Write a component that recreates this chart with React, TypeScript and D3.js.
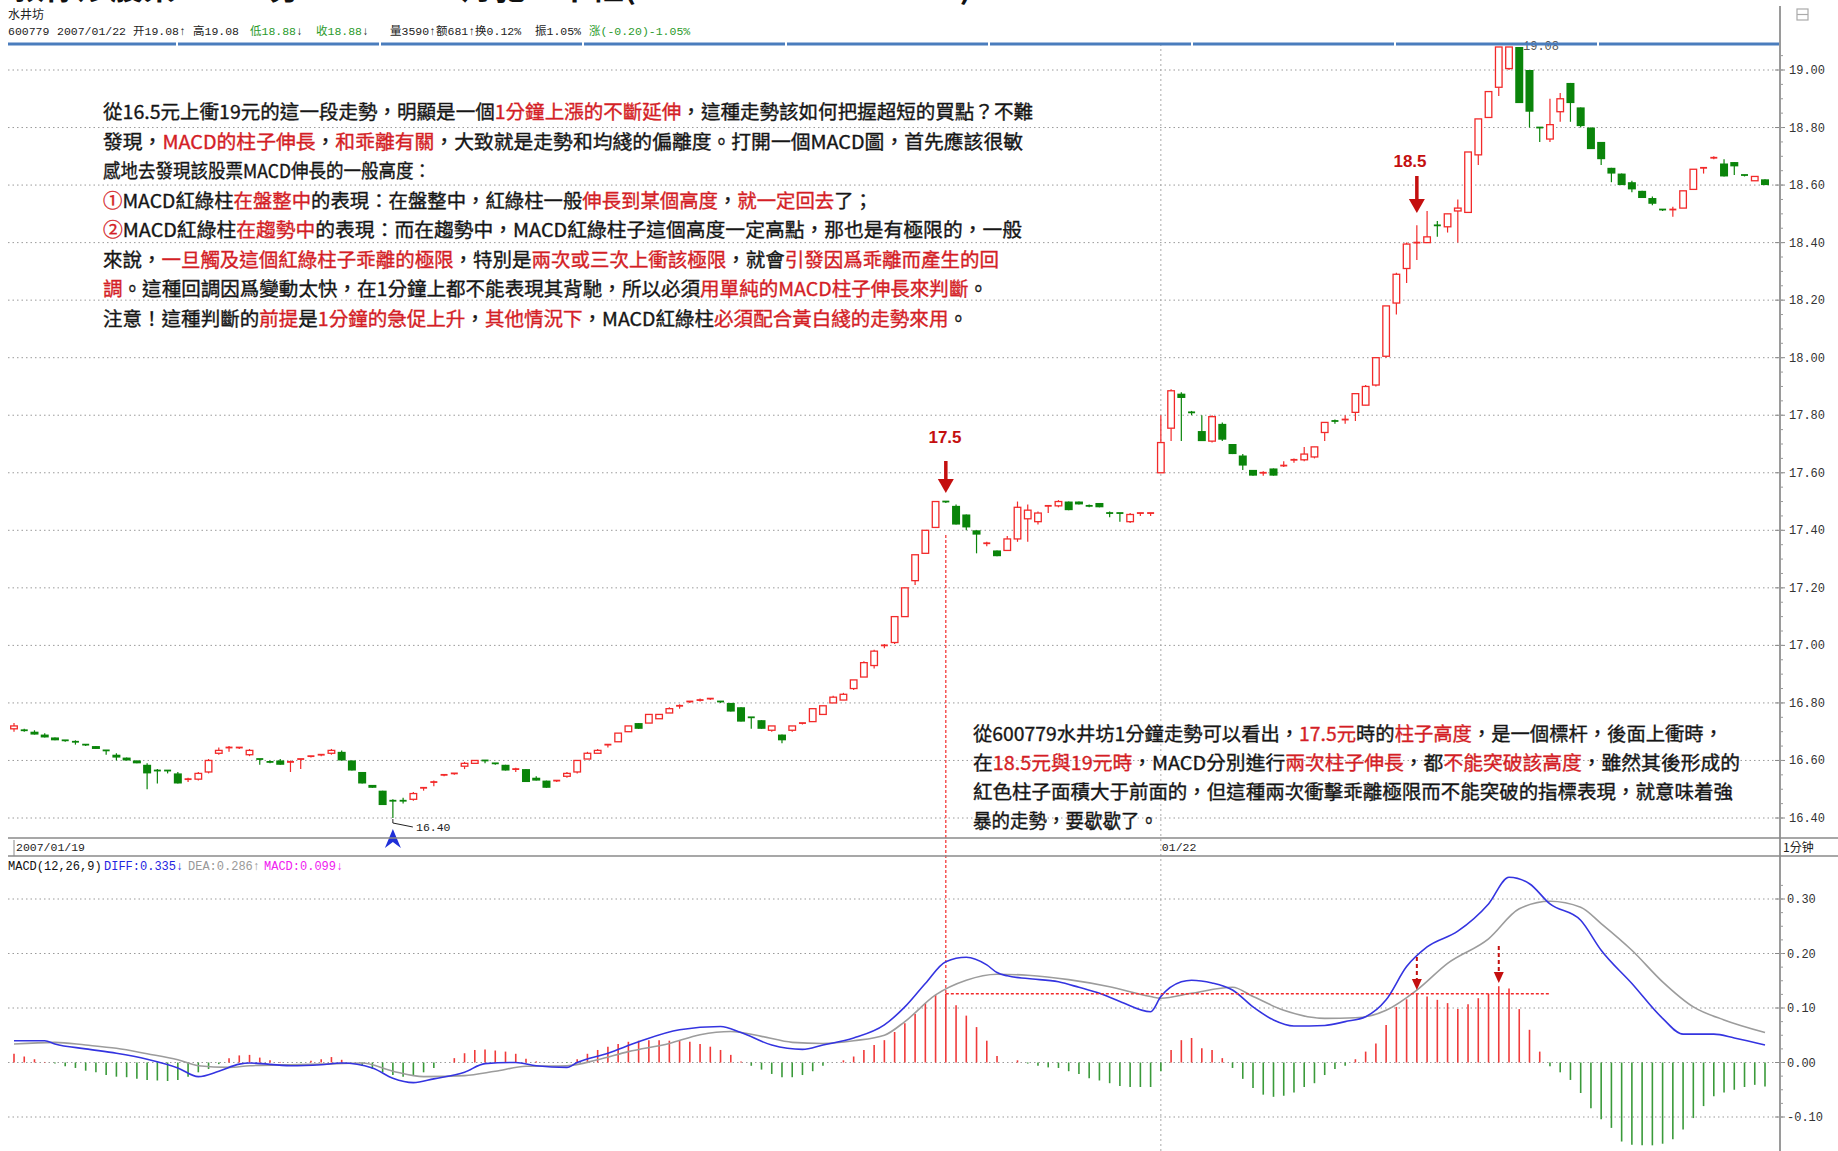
import * as d3 from 'd3';

// 1-minute bars, tail of 2007/01/19
const day1Open = [
  16.71, 16.705, 16.70, 16.69, 16.68, 16.67, 16.665, 16.655, 16.65, 16.635,
  16.62, 16.61, 16.60, 16.585, 16.565, 16.565, 16.555, 16.53, 16.535, 16.56,
  16.625, 16.64, 16.64, 16.62, 16.605, 16.595, 16.60, 16.59, 16.60, 16.61,
  16.615, 16.625, 16.63, 16.60, 16.56, 16.515, 16.495, 16.46, 16.46, 16.465,
  16.50, 16.52, 16.545, 16.55, 16.58, 16.59, 16.60, 16.59, 16.585, 16.565,
  16.57, 16.54, 16.53, 16.525, 16.545, 16.56, 16.605, 16.625, 16.65, 16.665,
  16.70, 16.73, 16.73, 16.745, 16.765, 16.785, 16.80, 16.805, 16.81, 16.805,
  16.80, 16.785, 16.75, 16.74, 16.705, 16.69, 16.705, 16.725, 16.735, 16.76,
  16.80, 16.81, 16.85, 16.89, 16.93, 16.995, 17.01, 17.10, 17.225, 17.32,
  17.41, 17.50, 17.485, 17.455, 17.40, 17.35, 17.33, 17.33, 17.37, 17.44,
  17.43, 17.48, 17.485, 17.50, 17.50, 17.485, 17.495, 17.46, 17.46, 17.43,
  17.455, 17.455,
];
const day1Close = [
  16.72, 16.70, 16.69, 16.68, 16.67, 16.665, 16.66, 16.65, 16.64, 16.63,
  16.61, 16.60, 16.59, 16.555, 16.56, 16.56, 16.52, 16.535, 16.555, 16.60,
  16.635, 16.645, 16.645, 16.635, 16.60, 16.59, 16.585, 16.595, 16.605, 16.615,
  16.62, 16.635, 16.60, 16.565, 16.52, 16.505, 16.445, 16.455, 16.455, 16.485,
  16.505, 16.525, 16.55, 16.555, 16.59, 16.60, 16.595, 16.585, 16.565, 16.57,
  16.525, 16.53, 16.505, 16.53, 16.555, 16.60, 16.625, 16.635, 16.655, 16.695,
  16.72, 16.71, 16.76, 16.76, 16.78, 16.79, 16.805, 16.81, 16.815, 16.80,
  16.77, 16.735, 16.745, 16.71, 16.72, 16.67, 16.72, 16.73, 16.78, 16.79,
  16.82, 16.83, 16.88, 16.94, 16.98, 17.00, 17.10, 17.20, 17.315, 17.40,
  17.50, 17.495, 17.42, 17.41, 17.385, 17.355, 17.31, 17.37, 17.48, 17.47,
  17.46, 17.485, 17.50, 17.47, 17.49, 17.48, 17.48, 17.455, 17.455, 17.455,
  17.46, 17.46,
];
const day1High = [
  16.73, 16.71, 16.705, 16.695, 16.68, 16.67, 16.67, 16.655, 16.65, 16.635,
  16.625, 16.61, 16.60, 16.59, 16.57, 16.565, 16.56, 16.54, 16.56, 16.605,
  16.645, 16.65, 16.645, 16.64, 16.605, 16.60, 16.605, 16.60, 16.605, 16.615,
  16.62, 16.64, 16.635, 16.60, 16.56, 16.515, 16.495, 16.465, 16.47, 16.49,
  16.505, 16.53, 16.55, 16.555, 16.595, 16.60, 16.60, 16.59, 16.585, 16.575,
  16.57, 16.545, 16.53, 16.53, 16.56, 16.60, 16.63, 16.64, 16.655, 16.695,
  16.72, 16.73, 16.76, 16.76, 16.785, 16.795, 16.805, 16.815, 16.815, 16.805,
  16.80, 16.785, 16.75, 16.74, 16.72, 16.69, 16.72, 16.73, 16.78, 16.79,
  16.825, 16.835, 16.88, 16.945, 16.985, 17.005, 17.10, 17.20, 17.315, 17.40,
  17.50, 17.50, 17.49, 17.455, 17.40, 17.36, 17.33, 17.38, 17.50, 17.49,
  17.465, 17.485, 17.505, 17.50, 17.50, 17.49, 17.495, 17.465, 17.46, 17.46,
  17.46, 17.46,
];
const day1Low = [
  16.70, 16.70, 16.69, 16.68, 16.67, 16.665, 16.655, 16.65, 16.64, 16.62,
  16.60, 16.60, 16.59, 16.50, 16.52, 16.555, 16.52, 16.525, 16.53, 16.555,
  16.62, 16.63, 16.64, 16.615, 16.585, 16.59, 16.585, 16.56, 16.57, 16.61,
  16.615, 16.62, 16.60, 16.565, 16.52, 16.505, 16.445, 16.40, 16.45, 16.46,
  16.495, 16.51, 16.545, 16.55, 16.57, 16.59, 16.59, 16.585, 16.565, 16.56,
  16.525, 16.53, 16.505, 16.525, 16.54, 16.555, 16.605, 16.625, 16.645, 16.665,
  16.70, 16.71, 16.73, 16.745, 16.765, 16.78, 16.80, 16.805, 16.81, 16.80,
  16.77, 16.735, 16.71, 16.71, 16.70, 16.66, 16.70, 16.725, 16.735, 16.76,
  16.80, 16.81, 16.845, 16.89, 16.92, 16.99, 17.005, 17.10, 17.21, 17.32,
  17.41, 17.495, 17.42, 17.40, 17.32, 17.345, 17.31, 17.33, 17.36, 17.36,
  17.42, 17.46, 17.48, 17.47, 17.49, 17.48, 17.48, 17.445, 17.43, 17.425,
  17.45, 17.45,
];

// 1-minute bars, 2007/01/22
const day2Open = [
  17.60, 17.755, 17.875, 17.81, 17.745, 17.71, 17.77, 17.70, 17.66, 17.61,
  17.595, 17.615, 17.62, 17.64, 17.645, 17.655, 17.74, 17.78, 17.78, 17.81,
  17.835, 17.905, 18.005, 18.19, 18.31, 18.395, 18.40, 18.46, 18.455, 18.51,
  18.505, 18.705, 18.835, 18.94, 19.005, 19.08, 19.00, 18.80, 18.76, 18.855,
  18.955, 18.87, 18.80, 18.75, 18.66, 18.64, 18.61, 18.58, 18.555, 18.515,
  18.51, 18.52, 18.585, 18.655, 18.69, 18.675, 18.68, 18.635, 18.615, 18.62,
];
const day2Close = [
  17.705, 17.885, 17.86, 17.805, 17.71, 17.795, 17.715, 17.665, 17.625, 17.59,
  17.60, 17.59, 17.625, 17.645, 17.665, 17.69, 17.775, 17.775, 17.785, 17.875,
  17.90, 18.00, 18.18, 18.29, 18.395, 18.40, 18.42, 18.455, 18.50, 18.52,
  18.715, 18.83, 18.925, 19.08, 19.08, 18.885, 18.855, 18.795, 18.81, 18.90,
  18.885, 18.805, 18.725, 18.69, 18.64, 18.60, 18.585, 18.555, 18.535, 18.51,
  18.515, 18.58, 18.655, 18.66, 18.695, 18.63, 18.665, 18.63, 18.63, 18.60,
];
const day2High = [
  17.80, 17.89, 17.88, 17.815, 17.80, 17.80, 17.775, 17.70, 17.665, 17.61,
  17.605, 17.615, 17.64, 17.65, 17.69, 17.69, 17.775, 17.785, 17.80, 17.875,
  17.905, 18.00, 18.18, 18.295, 18.40, 18.46, 18.51, 18.475, 18.50, 18.55,
  18.715, 18.83, 18.925, 19.08, 19.08, 19.08, 19.00, 18.80, 18.90, 18.92,
  18.955, 18.87, 18.80, 18.75, 18.66, 18.64, 18.615, 18.58, 18.56, 18.515,
  18.525, 18.58, 18.655, 18.66, 18.70, 18.69, 18.68, 18.635, 18.63, 18.62,
];
const day2Low = [
  17.60, 17.71, 17.71, 17.80, 17.71, 17.705, 17.71, 17.665, 17.61, 17.59,
  17.59, 17.59, 17.62, 17.635, 17.64, 17.65, 17.71, 17.77, 17.77, 17.78,
  17.835, 17.90, 18.00, 18.15, 18.26, 18.34, 18.40, 18.42, 18.435, 18.40,
  18.505, 18.67, 18.835, 18.91, 19.00, 18.885, 18.80, 18.75, 18.75, 18.82,
  18.82, 18.80, 18.725, 18.67, 18.61, 18.60, 18.575, 18.555, 18.53, 18.51,
  18.49, 18.52, 18.585, 18.64, 18.69, 18.63, 18.635, 18.63, 18.615, 18.60,
];

// MACD(12,26,9) histogram, one value per bar
const macdHist = [
  0.016, 0.011, 0.006, 0.001, -0.002, -0.007, -0.010, -0.015, -0.018, -0.023,
  -0.026, -0.027, -0.030, -0.032, -0.033, -0.034, -0.032, -0.026, -0.018, -0.012,
  -0.003, 0.008, 0.013, 0.014, 0.009, 0.004, 0.001, 0.000, -0.001, 0.003,
  0.006, 0.010, 0.005, 0.000, -0.006, -0.012, -0.018, -0.023, -0.026, -0.024,
  -0.018, -0.010, 0.000, 0.008, 0.017, 0.023, 0.024, 0.022, 0.020, 0.016,
  0.007, 0.002, 0.000, 0.000, -0.001, 0.006, 0.016, 0.023, 0.029, 0.034,
  0.038, 0.040, 0.041, 0.041, 0.040, 0.040, 0.038, 0.034, 0.029, 0.023,
  0.014, 0.002, -0.006, -0.013, -0.021, -0.027, -0.027, -0.023, -0.016, -0.006,
  0.000, 0.004, 0.011, 0.023, 0.032, 0.041, 0.056, 0.072, 0.089, 0.109,
  0.124, 0.126, 0.105, 0.086, 0.065, 0.040, 0.012, 0.000, 0.004, -0.002,
  -0.006, -0.009, -0.010, -0.016, -0.021, -0.029, -0.033, -0.038, -0.043, -0.045,
  -0.045, -0.045, -0.016, 0.023, 0.041, 0.045, 0.026, 0.023, 0.008, -0.010,
  -0.030, -0.047, -0.059, -0.063, -0.061, -0.055, -0.045, -0.038, -0.023, -0.012,
  -0.006, 0.006, 0.020, 0.035, 0.069, 0.102, 0.116, 0.126, 0.121, 0.115,
  0.109, 0.098, 0.107, 0.118, 0.126, 0.140, 0.136, 0.098, 0.060, 0.020,
  -0.007, -0.018, -0.032, -0.056, -0.084, -0.104, -0.120, -0.145, -0.151, -0.152,
  -0.152, -0.149, -0.141, -0.123, -0.102, -0.080, -0.062, -0.055, -0.050, -0.045,
  -0.041, -0.044,
];

// DIFF / DEA at these bar indices
const diffAt = [0, 3, 4, 7, 10, 13, 16, 18, 20, 22, 23, 27, 30, 32, 35, 37, 39, 41, 44, 46, 49, 51, 54, 55, 58, 61, 65, 69, 71, 74, 77, 79, 82, 85, 87, 89, 91, 93, 95, 96, 97, 99, 102, 104, 106, 108, 111, 112, 114, 115, 117, 119, 121, 123, 125, 128, 130, 132, 134, 136, 138, 141, 144, 146, 148, 150, 153, 155, 158, 161, 163, 166, 168, 171];
const diffVal = [0.040, 0.040, 0.034, 0.025, 0.017, 0.006, -0.010, -0.026, -0.016, -0.003, -0.001, -0.006, -0.004, -0.001, -0.010, -0.029, -0.037, -0.030, -0.018, -0.002, 0.000, -0.006, -0.009, 0.000, 0.017, 0.038, 0.060, 0.066, 0.055, 0.032, 0.024, 0.032, 0.045, 0.069, 0.102, 0.145, 0.185, 0.193, 0.179, 0.165, 0.159, 0.154, 0.148, 0.138, 0.127, 0.112, 0.093, 0.121, 0.148, 0.151, 0.146, 0.133, 0.102, 0.078, 0.067, 0.068, 0.075, 0.084, 0.115, 0.176, 0.212, 0.241, 0.291, 0.340, 0.328, 0.291, 0.261, 0.206, 0.145, 0.081, 0.052, 0.052, 0.045, 0.032];
const deaAt = [0, 4, 7, 10, 13, 16, 18, 21, 23, 27, 30, 34, 37, 40, 44, 47, 50, 54, 57, 60, 64, 67, 70, 73, 76, 79, 82, 85, 87, 90, 93, 96, 99, 103, 107, 111, 112, 115, 119, 121, 124, 128, 131, 134, 137, 140, 144, 147, 150, 153, 155, 158, 161, 164, 167, 171];
const deaVal = [0.034, 0.037, 0.032, 0.026, 0.016, 0.005, -0.006, -0.009, -0.006, -0.004, -0.003, -0.001, -0.016, -0.026, -0.024, -0.016, -0.007, -0.006, 0.005, 0.020, 0.035, 0.051, 0.057, 0.048, 0.037, 0.035, 0.040, 0.050, 0.075, 0.124, 0.151, 0.162, 0.160, 0.152, 0.139, 0.121, 0.118, 0.127, 0.138, 0.121, 0.096, 0.081, 0.082, 0.096, 0.133, 0.182, 0.227, 0.282, 0.296, 0.285, 0.255, 0.206, 0.148, 0.102, 0.078, 0.055];

const priceTicks = [19.0, 18.8, 18.6, 18.4, 18.2, 18.0, 17.8, 17.6, 17.4, 17.2, 17.0, 16.8, 16.6, 16.4];
const macdTicks = [0.3, 0.2, 0.1, 0.0, -0.1];

// annotation text: [text, red?]
const noteA: [string, boolean][][] = [
  [['從16.5元上衝19元的這一段走勢，明顯是一個', false], ['1分鐘上漲的不斷延伸', true], ['，這種走勢該如何把握超短的買點？不難', false]],
  [['發現，', false], ['MACD的柱子伸長', true], ['，', false], ['和乖離有關', true], ['，大致就是走勢和均綫的偏離度。打開一個MACD圖，首先應該很敏', false]],
  [['感地去發現該股票MACD伸長的一般高度：', false]],
  [['①', true], ['MACD紅綠柱', false], ['在盤整中', true], ['的表現：在盤整中，紅綠柱一般', false], ['伸長到某個高度', true], ['，', false], ['就一定回去', true], ['了；', false]],
  [['②', true], ['MACD紅綠柱', false], ['在趨勢中', true], ['的表現：而在趨勢中，MACD紅綠柱子這個高度一定高點，那也是有極限的，一般', false]],
  [['來說，', false], ['一旦觸及這個紅綠柱子乖離的極限', true], ['，特別是', false], ['兩次或三次上衝該極限', true], ['，就會', false], ['引發因爲乖離而產生的回', true]],
  [['調', true], ['。這種回調因爲變動太快，在1分鐘上都不能表現其背馳，所以必須', false], ['用單純的MACD柱子伸長來判斷', true], ['。', false]],
  [['注意！這種判斷的', false], ['前提', true], ['是', false], ['1分鐘的急促上升', true], ['，', false], ['其他情況下', true], ['，MACD紅綠柱', false], ['必須配合黃白綫的走勢來用', true], ['。', false]],
];
const noteB: [string, boolean][][] = [
  [['從600779水井坊1分鐘走勢可以看出，', false], ['17.5元', true], ['時的', false], ['柱子高度', true], ['，是一個標杆，後面上衝時，', false]],
  [['在', false], ['18.5元與19元時', true], ['，MACD分別進行', false], ['兩次柱子伸長', true], ['，都', false], ['不能突破該高度', true], ['，雖然其後形成的', false]],
  [['紅色柱子面積大于前面的，但這種兩次衝擊乖離極限而不能突破的指標表現，就意味着強', false]],
  [['暴的走勢，要歇歇了。', false]],
];
const noteAWidths = [930, 920, 328, 770, 919, 896, 885, 865];
const noteBWidths = [750, 767, 760, 185];

const RED = '#f22a2a';
const GREEN = '#0a840a';
const TXT_RED = '#d41e26';
const TXT = '#161616';
const MARK = '#c40f0f';
const CJK = "'Noto Sans CJK TC', 'Noto Sans CJK SC', sans-serif";
const MONO_SC = "'Liberation Mono', 'Noto Sans CJK SC', monospace";
const MONO = "'Liberation Mono', 'DejaVu Sans Mono', monospace";

const DownArrow = ({ x, top, tip, dashed }: { x: number; top: number; tip: number; dashed?: boolean }) => (
  <g>
    <line x1={x} x2={x} y1={top} y2={tip - 10} stroke={MARK} strokeWidth={dashed ? 2 : 3.5} strokeDasharray={dashed ? '4,3' : undefined} />
    <polygon points={`${x - (dashed ? 5 : 8)},${tip - (dashed ? 11 : 14)} ${x + (dashed ? 5 : 8)},${tip - (dashed ? 11 : 14)} ${x},${tip}`} fill={MARK} />
  </g>
);

const Note = ({ lines, widths, x, y, step }: { lines: [string, boolean][][]; widths: number[]; x: number; y: number; step: number }) => (
  <g>
    {lines.map((line, k) => (
      <text key={k} x={x} y={y + k * step} fontSize={19} textLength={widths[k]} lengthAdjust="spacingAndGlyphs">
        {line.map(([s, r], j) => {
          const c = r ? TXT_RED : TXT;
          return <tspan key={j} fill={c} stroke={c} strokeWidth={0.35}>{s}</tspan>;
        })}
      </text>
    ))}
  </g>
);

const App = () => {
  const open = [...day1Open, ...day2Open];
  const close = [...day1Close, ...day2Close];
  const high = [...day1High, ...day2High];
  const low = [...day1Low, ...day2Low];
  const n = open.length;

  const x = d3.scaleLinear().domain([0, n - 1]).range([14, 1765]);
  const yP = d3.scaleLinear().domain([16.4, 19.0]).range([818, 70]);
  const yM = d3.scaleLinear().domain([-0.1, 0.3]).range([1117, 899]);

  const axisX = 1780;
  const dayBreak = x(day1Open.length);
  const bar175 = 91, bar185 = 137, bar19 = 145, barLow = 37;

  const diffLine = d3.line<number>().x((_, k) => x(diffAt[k])).y(v => yM(v)).curve(d3.curveMonotoneX)(diffVal) ?? '';
  const deaLine = d3.line<number>().x((_, k) => x(deaAt[k])).y(v => yM(v)).curve(d3.curveMonotoneX)(deaVal) ?? '';

  const minorP = d3.range(16.4, 19.05, 0.05);
  const minorM = d3.range(-0.1, 0.33, 0.025);
  const blueGaps = [177, 380, 583, 786, 989, 1192, 1395, 1598];
  const blueEdges = [8, ...blueGaps, axisX];

  return (
    <svg width={1838} height={1151} style={{ position: 'absolute', left: 0, top: 0, background: '#fff' }} fontFamily={CJK}>
      {/* page title, cut by the top edge */}
      <text x={12} y={-1.5} fontSize={30} fontWeight="bold" fill="#111" textLength={960} lengthAdjust="spacingAndGlyphs">教你炒股票 15 - 1分，MACD、背驰、中枢(2007-01-23 13:15:13)</text>

      {/* header */}
      <text x={8} y={19} fontSize={12} fill="#222">水井坊</text>
      <text y={35} fontSize={11.5} fontFamily={MONO_SC} fill="#222">
        <tspan x={8}>600779</tspan>
        <tspan x={57}>2007/01/22</tspan>
        <tspan x={133}>开19.08↑</tspan>
        <tspan x={193}>高19.08</tspan>
        <tspan x={250} fill="#2a9a2a">低18.88</tspan><tspan>↓</tspan>
        <tspan x={316} fill="#2a9a2a">收18.88</tspan><tspan>↓</tspan>
        <tspan x={390}>量3590↑额681↑换0.12%</tspan>
        <tspan x={535}>振1.05%</tspan>
        <tspan x={589} fill="#2a9a2a">涨(-0.20)-1.05%</tspan>
      </text>

      {/* price grid */}
      {priceTicks.map(t => (
        <g key={'pg' + t}>
          <line x1={8} x2={axisX} y1={yP(t)} y2={yP(t)} stroke="#9a9a9a" strokeDasharray="1.5,3" />
          <line x1={axisX - 5} x2={axisX + 5} y1={yP(t)} y2={yP(t)} stroke="#888" />
          <text x={1789} y={yP(t) + 4} fontSize={12} fontFamily={MONO} fill="#333">{t.toFixed(2)}</text>
        </g>
      ))}
      {minorP.map((t, k) => (
        <line key={'pm' + k} x1={axisX} x2={axisX + 3} y1={yP(t)} y2={yP(t)} stroke="#999" />
      ))}

      {/* macd grid */}
      {macdTicks.map(t => (
        <g key={'mg' + t}>
          <line x1={8} x2={axisX} y1={yM(t)} y2={yM(t)} stroke="#9a9a9a" strokeDasharray="1.5,3" />
          <line x1={axisX - 5} x2={axisX + 5} y1={yM(t)} y2={yM(t)} stroke="#888" />
          <text x={1787} y={yM(t) + 4} fontSize={12} fontFamily={MONO} fill="#333">{t.toFixed(2)}</text>
        </g>
      ))}
      {minorM.map((t, k) => (
        <line key={'mm' + k} x1={axisX} x2={axisX + 3} y1={yM(t)} y2={yM(t)} stroke="#999" />
      ))}

      {/* day separator */}
      <line x1={dayBreak} x2={dayBreak} y1={44} y2={1151} stroke="#aaa" strokeDasharray="2,3" />

      {/* annotation paragraphs */}
      <Note lines={noteA} widths={noteAWidths} x={103} y={119} step={29.5} />
      <Note lines={noteB} widths={noteBWidths} x={973} y={741} step={29} />

      {/* vertical marker from the 17.5 bar down to its MACD bar */}
      <line x1={x(bar175)} x2={x(bar175)} y1={535} y2={yM(macdHist[bar175])} stroke={RED} strokeDasharray="3,2" strokeWidth={1.2} />

      {/* candles */}
      {open.map((o, i) => {
        const c = close[i];
        const up = c >= o;
        const col = up ? RED : GREEN;
        const cx = x(i);
        const top = yP(Math.max(o, c));
        const bot = yP(Math.min(o, c));
        const flat = bot - top < 1.5;
        return (
          <g key={'c' + i}>
            <line x1={cx} x2={cx} y1={yP(high[i])} y2={yP(low[i])} stroke={col} strokeWidth={1.2} />
            {flat ? (
              <line x1={cx - 3.5} x2={cx + 3.5} y1={top} y2={top} stroke={col} strokeWidth={1.8} />
            ) : up ? (
              <rect x={cx - 3.3} y={top} width={6.6} height={bot - top} fill="#fff" stroke={col} strokeWidth={1.3} />
            ) : (
              <rect x={cx - 4} y={top} width={8} height={bot - top} fill={col} />
            )}
          </g>
        );
      })}

      {/* price labels & arrows */}
      <polyline points={`${x(barLow)},${yP(low[barLow]) + 1} ${x(barLow)},823 ${x(barLow) + 20},827`} fill="none" stroke="#222" strokeWidth={1} />
      <text x={416} y={831} fontSize={11.5} fontFamily={MONO} fill="#222">{low[barLow].toFixed(2)}</text>
      <polygon points={`${x(barLow)},829 ${x(barLow) + 8},848 ${x(barLow)},842 ${x(barLow) - 8},848`} fill="#1f2fd8" />
      <text x={1523} y={50} fontSize={12} fontFamily={MONO} fill="#555">{high[bar19 + 1].toFixed(2)}</text>

      <text x={945} y={443} fontSize={17} fontWeight="bold" fontFamily="'Liberation Sans', Arial, sans-serif" fill={MARK} textAnchor="middle">17.5</text>
      <DownArrow x={x(bar175)} top={461} tip={493} />
      <text x={1410} y={167} fontSize={17} fontWeight="bold" fontFamily="'Liberation Sans', Arial, sans-serif" fill={MARK} textAnchor="middle">18.5</text>
      <DownArrow x={x(bar185)} top={176} tip={213} />

      {/* top blue band */}
      {blueEdges.slice(0, -1).map((e, k) => (
        <line key={'bl' + k} x1={e + (k ? 1 : 0)} x2={blueEdges[k + 1] - 1} y1={44} y2={44} stroke="#4a7dbd" strokeWidth={3} />
      ))}

      {/* right axis & panel borders */}
      <line x1={axisX} x2={axisX} y1={6} y2={1151} stroke="#9a9a9a" strokeWidth={2} />
      <rect x={1797} y={9} width={11} height={11} fill="none" stroke="#aaa" strokeWidth={1.2} />
      <line x1={1797} x2={1808} y1={14.5} y2={14.5} stroke="#aaa" strokeWidth={1.2} />
      <line x1={8} x2={1838} y1={838} y2={838} stroke="#8a8a8a" strokeWidth={1.5} />
      <line x1={8} x2={1838} y1={856} y2={856} stroke="#8a8a8a" strokeWidth={1.5} />
      <line x1={14} x2={14} y1={840} y2={856} stroke="#8a8a8a" />
      <text x={16} y={851} fontSize={11.5} fontFamily={MONO} fill="#222">2007/01/19</text>
      <text x={dayBreak + 1} y={851} fontSize={11.5} fontFamily={MONO} fill="#222">01/22</text>
      <text x={1783} y={852} fontSize={12} fill="#222">1分钟</text>

      {/* MACD legend */}
      <text y={870} fontSize={12} fontFamily={MONO}>
        <tspan x={8} fill="#111">MACD(12,26,9)</tspan>
        <tspan x={104} fill="#2424e0">DIFF:0.335↓</tspan>
        <tspan x={188} fill="#999">DEA:0.286↑</tspan>
        <tspan x={264} fill="#f020f0">MACD:0.099↓</tspan>
      </text>

      {/* MACD histogram */}
      {macdHist.map((v, i) => (
        Math.abs(v) < 0.0005 ? null : (
          <line key={'h' + i} x1={x(i)} x2={x(i)} y1={yM(0)} y2={yM(v)} stroke={v > 0 ? '#f03a3a' : '#3a9a3a'} strokeWidth={1.6} />
        )
      ))}
      <path d={deaLine} fill="none" stroke="#9c9c9c" strokeWidth={1.6} />
      <path d={diffLine} fill="none" stroke="#3434e0" strokeWidth={1.6} />

      {/* MACD height reference and the two failed pushes */}
      <line x1={x(bar175)} x2={x(150)} y1={yM(macdHist[bar175])} y2={yM(macdHist[bar175])} stroke={RED} strokeWidth={1.5} strokeDasharray="3,2" />
      <DownArrow x={x(bar185)} top={957} tip={990} dashed />
      <DownArrow x={x(bar19)} top={946} tip={983} dashed />
    </svg>
  );
};

export default App;
